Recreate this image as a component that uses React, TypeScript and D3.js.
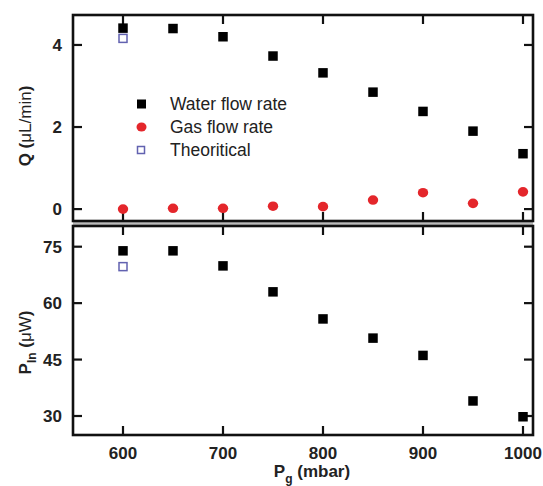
import React from 'react';
import * as d3 from 'd3';

const pressure = [600, 650, 700, 750, 800, 850, 900, 950, 1000];
const waterFlow = [4.41, 4.4, 4.2, 3.73, 3.32, 2.85, 2.38, 1.9, 1.35];
const gasFlow = [0.0, 0.02, 0.02, 0.07, 0.06, 0.22, 0.4, 0.14, 0.42];
const theoFlow = [{ x: 600, y: 4.16 }];
const powerIn = [73.9, 73.9, 69.9, 63.0, 55.8, 50.7, 46.1, 34.0, 29.8];
const theoPower = [{ x: 600, y: 69.7 }];
const xTicks = [600, 700, 800, 900, 1000];
const qTicks = [0, 2, 4];
const pTicks = [30, 45, 60, 75];
const legendLabels = ['Water flow rate', 'Gas flow rate', 'Theoritical'];

const FONT = '"Liberation Sans", Arial, sans-serif';
const RED = '#e4262b';
const BLUE = '#6262b0';
const INK = '#111';

const left = 73, right = 533;
const panelQ = { t: 15, b: 221 };
const panelP = { t: 226, b: 435 };
const TICK = 9;
const SQ = 9.5;

const x = d3.scaleLinear().domain([550, 1010]).range([left, right]);
const yQ = d3.scaleLinear().domain([-0.29, 4.73]).range([panelQ.b, panelQ.t]);
const yP = d3.scaleLinear().domain([24.95, 80.5]).range([panelP.b, panelP.t]);
const fmt = d3.format('d');

function frameTicks(y: d3.ScaleLinear<number, number>, yt: number[], t: number, b: number, id: string) {
  const out: React.ReactElement[] = [];
  yt.forEach(v => {
    out.push(<line key={id + 'yl' + v} x1={left} x2={left + TICK} y1={y(v)} y2={y(v)} stroke={INK} strokeWidth={2.2} />);
    out.push(<line key={id + 'yr' + v} x1={right} x2={right - TICK} y1={y(v)} y2={y(v)} stroke={INK} strokeWidth={2.2} />);
  });
  xTicks.forEach(v => {
    out.push(<line key={id + 'xt' + v} x1={x(v)} x2={x(v)} y1={t} y2={t + TICK} stroke={INK} strokeWidth={2.2} />);
    out.push(<line key={id + 'xb' + v} x1={x(v)} x2={x(v)} y1={b} y2={b - TICK} stroke={INK} strokeWidth={2.2} />);
  });
  return out;
}

function App() {
  return (
    <svg width={543} height={486} style={{ position: 'absolute', left: 0, top: 0, background: '#fff' }}>
      {/* grey seam between the panels */}
      <rect x={left} y={panelQ.b} width={right - left} height={panelP.t - panelQ.b} fill="#bbb" />
      <rect x={left} y={panelQ.t} width={right - left} height={panelQ.b - panelQ.t} fill="none" stroke={INK} strokeWidth={2.6} />
      <rect x={left} y={panelP.t} width={right - left} height={panelP.b - panelP.t} fill="none" stroke={INK} strokeWidth={2.6} />
      {frameTicks(yQ, qTicks, panelQ.t, panelQ.b, 'q')}
      {frameTicks(yP, pTicks, panelP.t, panelP.b, 'p')}

      {/* tick labels */}
      {qTicks.map(v => (
        <text key={'ql' + v} x={left - 11} y={yQ(v) + 6} textAnchor="end" fontFamily={FONT} fontWeight="bold" fontSize={17} fill="#222">{fmt(v)}</text>
      ))}
      {pTicks.map(v => (
        <text key={'pl' + v} x={left - 11} y={yP(v) + 6} textAnchor="end" fontFamily={FONT} fontWeight="bold" fontSize={17} fill="#222">{fmt(v)}</text>
      ))}
      {xTicks.map(v => (
        <text key={'xl' + v} x={x(v)} y={panelP.b + 24} textAnchor="middle" fontFamily={FONT} fontWeight="bold" fontSize={17} fill="#222">{fmt(v)}</text>
      ))}

      {/* top panel marks */}
      {gasFlow.map((d, i) => (
        <ellipse key={'g' + i} cx={x(pressure[i])} cy={yQ(d)} rx={5.2} ry={4.8} fill={RED} />
      ))}
      {waterFlow.map((d, i) => (
        <rect key={'w' + i} x={x(pressure[i]) - SQ / 2} y={yQ(d) - SQ / 2} width={SQ} height={SQ} fill="#000" />
      ))}
      {theoFlow.map((d, i) => (
        <rect key={'t' + i} x={x(d.x) - 4} y={yQ(d.y) - 4} width={8} height={8} fill="#fff" stroke={BLUE} strokeWidth={1.5} />
      ))}

      {/* bottom panel marks */}
      {powerIn.map((d, i) => (
        <rect key={'p' + i} x={x(pressure[i]) - SQ / 2} y={yP(d) - SQ / 2} width={SQ} height={SQ} fill="#000" />
      ))}
      {theoPower.map((d, i) => (
        <rect key={'tp' + i} x={x(d.x) - 4} y={yP(d.y) - 4} width={8} height={8} fill="#fff" stroke={BLUE} strokeWidth={1.5} />
      ))}

      {/* legend */}
      <rect x={137} y={104 - 4.5} width={9} height={9} fill="#000" />
      <ellipse cx={141.5} cy={127} rx={5} ry={4.5} fill={RED} />
      <rect x={137.5} y={150 - 3.5} width={7} height={7} fill="#fff" stroke={BLUE} strokeWidth={1.5} />
      {legendLabels.map((label, i) => (
        <text key={label} x={170} y={110 + i * 23} fontFamily={FONT} fontSize={17.5} fill="#222">{label}</text>
      ))}

      {/* axis titles */}
      <text transform={`translate(31,${(panelQ.t + panelQ.b) / 2 + 8}) rotate(-90)`} textAnchor="middle"
        fontFamily={FONT} fontSize={17} fontWeight="bold" fill="#222">
        <tspan>Q (</tspan>
        <tspan fontWeight="normal">μL/min</tspan>
        <tspan>)</tspan>
      </text>
      <text transform={`translate(31,${(panelP.t + panelP.b) / 2 + 12}) rotate(-90)`} textAnchor="middle"
        fontFamily={FONT} fontSize={17} fontWeight="bold" fill="#222">
        <tspan>P</tspan>
        <tspan fontSize={12} dy={5}>In</tspan>
        <tspan dy={-5}> (</tspan>
        <tspan fontWeight="normal">μW</tspan>
        <tspan>)</tspan>
      </text>
      <text x={312} y={477} textAnchor="middle" fontFamily={FONT} fontSize={17} fontWeight="bold" fill="#222">
        <tspan>P</tspan>
        <tspan fontSize={12} dy={6}>g</tspan>
        <tspan dy={-6}> (mbar)</tspan>
      </text>
    </svg>
  );
}

export default App;
